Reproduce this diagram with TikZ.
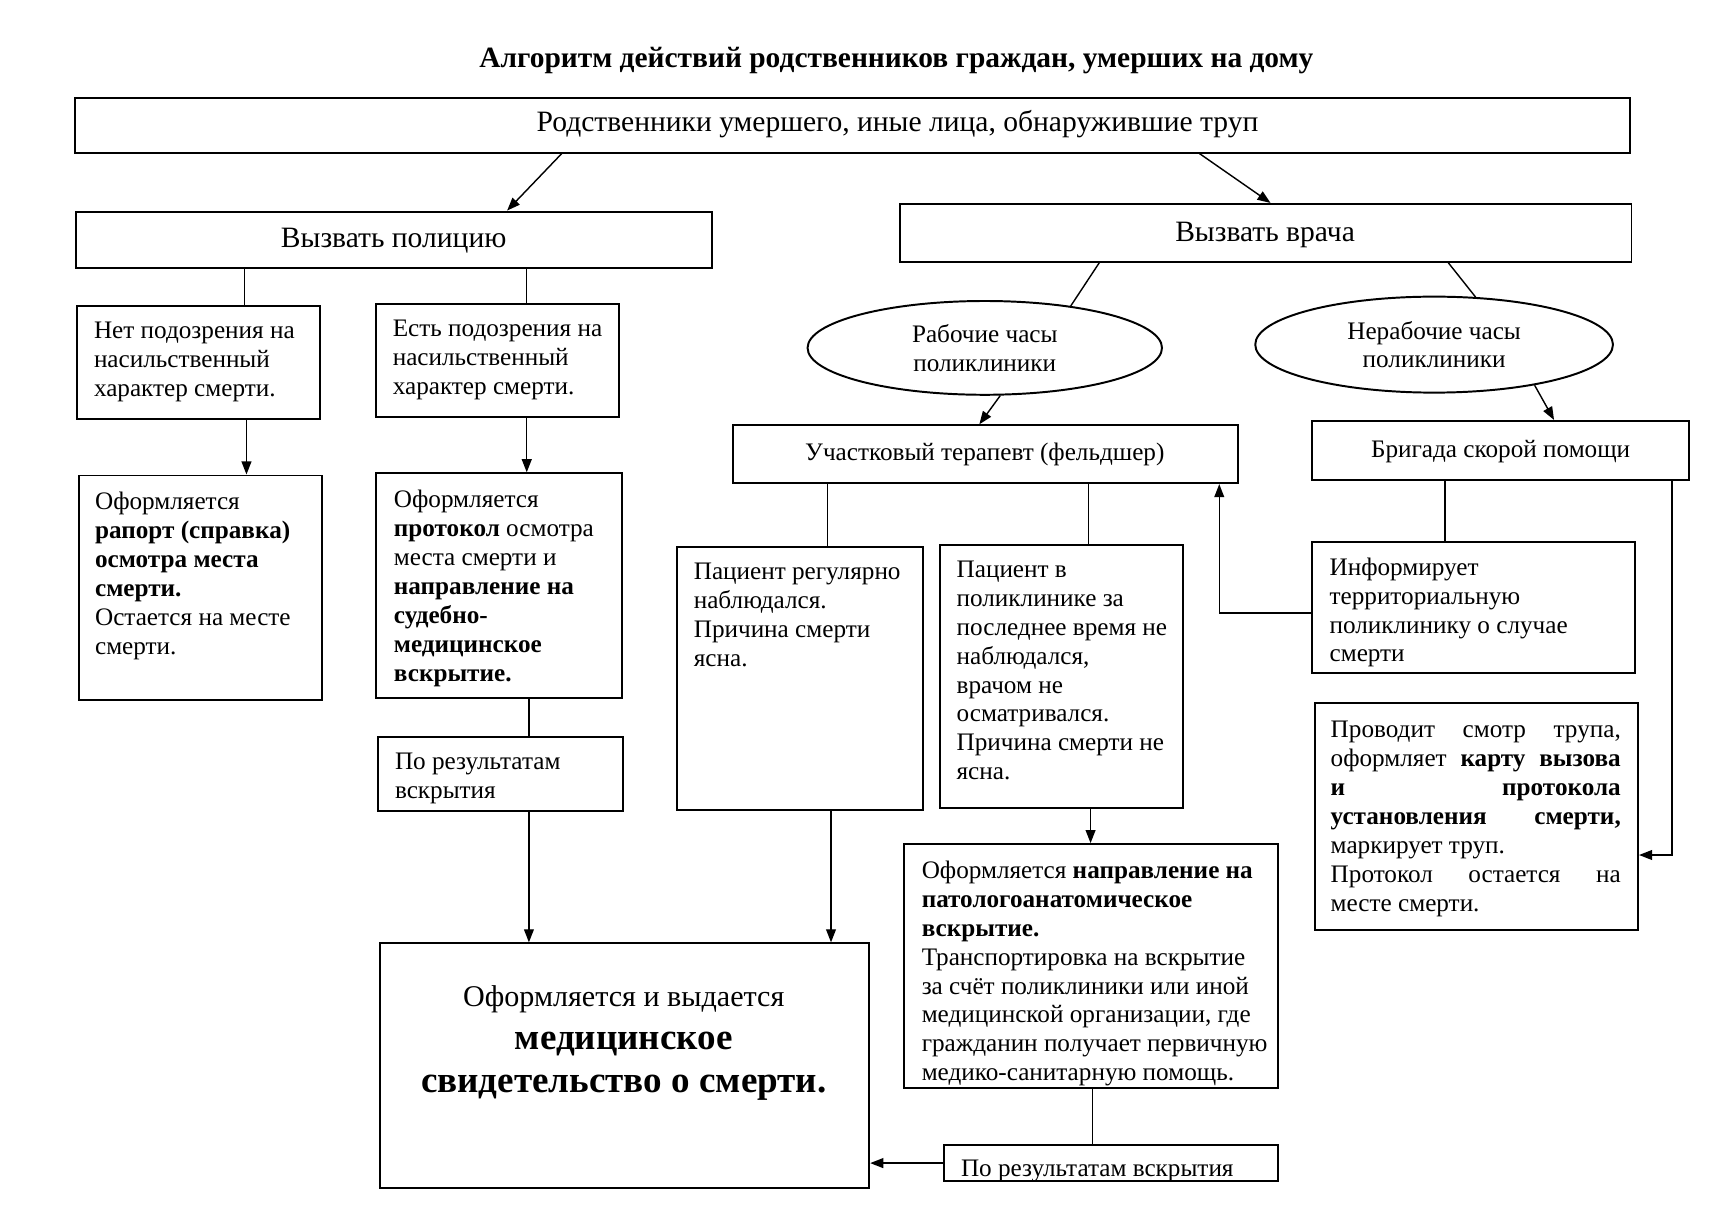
\documentclass[tikz,border=0pt]{standalone}
\usepackage{fontspec}
\setmainfont{Liberation Serif}
\usetikzlibrary{arrows.meta,shapes.geometric,fit}
\newcommand\bodyfont{\fontsize{23.1}{26.5}\selectfont}
\newcommand\headfont{\fontsize{27.1}{30}\selectfont}
\begin{document}
\begin{tikzpicture}[x=1pt,y=-1pt,
  box/.style={draw, line width=1.8pt, inner sep=0pt},
  ell/.style={draw, ellipse, line width=1.8pt, inner sep=0pt, align=center, font=\bodyfont},
  txt/.style={inner sep=0pt, anchor=base west, font=\bodyfont, yshift=-2.5pt},
  ctxt/.style={inner sep=0pt, anchor=base, font=\bodyfont, yshift=-2.5pt},
  htxt/.style={inner sep=0pt, anchor=base, font=\headfont, yshift=-2pt},
  ln/.style={line width=1.3pt},
  arr/.style={line width=1.3pt, -{Triangle[length=12pt,width=9pt]}}]
\useasboundingbox (0,0) rectangle (1568,1108);

% title
\node[inner sep=0pt, anchor=base, font=\fontsize{27}{30}\selectfont\bfseries] (title) at (822,62) {Алгоритм действий родственников граждан, умерших на дому};

% top level
\node[box, fit={(69,90) (1495,140)}] (top) {};
\node[htxt] (top-t) at (823,119) {Родственники умершего, иные лица, обнаружившие труп};

\node[box, fit={(70,194) (653,246)}] (pol) {};
\node[htxt] (pol-t) at (361,225) {Вызвать полицию};

\node[box, fit={(825,187) (1496,240)}] (vr) {};
\node[htxt] (vr-t) at (1160,219) {Вызвать врача};

% police branch
\node[box, fit={(71,281) (293,384)}] (no) {};
\node[txt] (no-t) at (86,308) {\parbox[t]{300pt}{Нет подозрения на\\насильственный\\характер смерти.}};

\node[box, fit={(345,279) (568,382)}] (yes) {};
\node[txt] (yes-t) at (360,306) {\parbox[t]{300pt}{Есть подозрения на\\насильственный\\характер смерти.}};

\node[box, fit={(72,436) (295,642)}] (rap) {};
\node[txt] (rap-t) at (87,465) {\parbox[t]{300pt}{Оформляется\\\textbf{рапорт (справка)}\\\textbf{осмотра места}\\\textbf{смерти.}\\Остается на месте\\смерти.}};

\node[box, fit={(345,434) (570,640)}] (prot) {};
\node[txt] (prot-t) at (361,463) {\parbox[t]{300pt}{Оформляется\\\textbf{протокол} осмотра\\места смерти и\\\textbf{направление на}\\\textbf{судебно-}\\\textbf{медицинское}\\\textbf{вскрытие.}}};

\node[box, fit={(347,676) (571,744)}] (res1) {};
\node[txt] (res1-t) at (362,703) {\parbox[t]{300pt}{По результатам\\вскрытия}};

\node[box, fit={(348,865) (797,1089)}] (big) {};
\node[ctxt] (big-t) at (572,920) {\parbox[t]{440pt}{\centering\fontsize{27.6}{30}\selectfont Оформляется и выдается\par
\fontsize{34}{39.5}\selectfont\bfseries медицинское\par свидетельство о смерти.\par}};

% doctor branch
\node[ell, minimum width=325pt, minimum height=86pt] (e1) at (903,319) {Рабочие часы\\поликлиники};
\node[ell, minimum width=328pt, minimum height=88pt] (e2) at (1315,316) {Нерабочие часы\\поликлиники};

\node[box, fit={(672,390) (1135,443)}] (uch) {};
\node[ctxt] (uch-t) at (903,420) {Участковый терапевт (фельдшер)};

\node[box, fit={(1203,386) (1549,440)}] (br) {};
\node[ctxt] (br-t) at (1376,417) {Бригада скорой помощи};

\node[box, fit={(621,502) (846,743)}] (reg) {};
\node[txt] (reg-t) at (636,529) {\parbox[t]{300pt}{Пациент регулярно\\наблюдался.\\Причина смерти\\ясна.}};

\node[box, fit={(862,500) (1085,741)}] (ner) {};
\node[txt] (ner-t) at (877,527) {\parbox[t]{300pt}{Пациент в\\поликлинике за\\последнее время не\\наблюдался,\\врачом не\\осматривался.\\Причина смерти не\\ясна.}};

\node[box, fit={(829,774) (1172,998)}] (pat) {};
\node[txt] (pat-t) at (845,803) {\parbox[t]{400pt}{Оформляется \textbf{направление на}\\\textbf{патологоанатомическое}\\\textbf{вскрытие.}\\Транспортировка на вскрытие\\за счёт поликлиники или иной\\медицинской организации, где\\гражданин получает первичную\\медико-санитарную помощь.}};

\node[box, fit={(866,1050) (1172,1083)}] (res2) {};
\node[txt] (res2-t) at (881,1076) {По результатам вскрытия};

\node[box, fit={(1203,497) (1499,617)}] (inf) {};
\node[txt] (inf-t) at (1219,525) {\parbox[t]{300pt}{Информирует\\территориальную\\поликлинику о случае\\смерти}};

\node[box, fit={(1206,645) (1502,853)}] (prov) {};
\node[txt] (prov-t) at (1220,674) {\parbox[t]{266pt}{%
\makebox[266pt][s]{Проводит\hfill смотр\hfill трупа,}\\
\makebox[266pt][s]{оформляет\hfill\textbf{карту}\hfill\textbf{вызова}}\\
\makebox[266pt][s]{\textbf{и}\hfill\textbf{протокола}}\\
\makebox[266pt][s]{\textbf{установления}\hfill\textbf{смерти,}}\\
маркирует труп.\\
\makebox[266pt][s]{Протокол\hfill остается\hfill на}\\
месте смерти.}};

% helper coordinates
\coordinate (x224) at (224,0);
\coordinate (x226) at (226,0);
\coordinate (x483) at (483,0);
\coordinate (x485) at (485,0);
\coordinate (x759) at (759,0);
\coordinate (x762) at (762,0);
\coordinate (x998) at (998,0);
\coordinate (x1000) at (1000,0);
\coordinate (x1002) at (1002,0);
\coordinate (x1118) at (1118,0);
\coordinate (x1325) at (1325,0);
\coordinate (x1533) at (1533,0);

% connectors
\draw[arr] ([xshift=-267pt]top.south) -- ([xshift=103.5pt]pol.north);
\draw[arr] ([xshift=318pt]top.south) -- ([xshift=4.5pt]vr.north);
\draw[ln] (pol.south -| x224) -- (no.north -| x224);
\draw[ln] (pol.south -| x483) -- (yes.north -| x483);
\draw[arr] (no.south -| x226) -- (rap.north -| x226);
\draw[arr] (yes.south -| x483) -- (prot.north -| x483);
\draw[ln] (prot.south -| x485) -- (res1.north -| x485);
\draw[arr] (res1.south -| x485) -- (big.north -| x485);

\draw[ln] ([xshift=-152.5pt]vr.south) -- (e1.26);
\draw[ln] ([xshift=167.5pt]vr.south) -- (e2.49);
\draw[arr] (e1.-72) -- ([xshift=-5.5pt]uch.north);
\draw[arr] (e2.-22) -- ([xshift=49pt]br.north);
\draw[ln] (uch.south -| x759) -- (reg.north -| x759);
\draw[ln] (uch.south -| x998) -- (ner.north -| x998);
\draw[arr] (reg.south -| x762) -- (big.north -| x762);
\draw[arr] (ner.south -| x1000) -- (pat.north -| x1000);
\draw[ln] (pat.south -| x1002) -- (res2.north -| x1002);
\draw[arr] (res2.west) -- (res2.west -| big.east);
\draw[ln] (br.south -| x1325) -- (inf.north -| x1325);
\draw[arr] ([yshift=-5pt]inf.west) -| (x1118 |- uch.south);
\draw[arr] (br.south -| x1533) |- ([yshift=-35pt]prov.east);
\end{tikzpicture}
\end{document}
